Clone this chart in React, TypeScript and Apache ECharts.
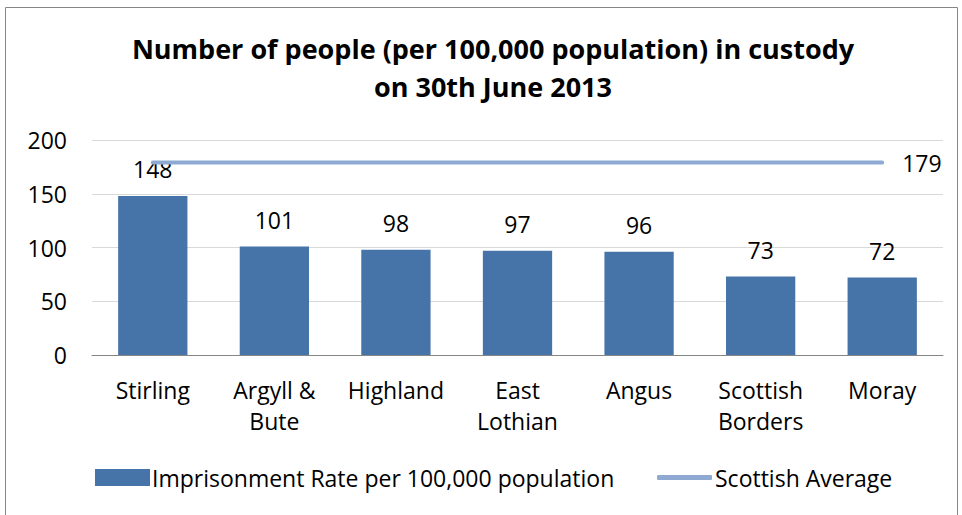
import React, { useEffect, useRef } from "react";
import * as echarts from "echarts";

const categories = ["Stirling", "Argyll &\nBute", "Highland", "East\nLothian", "Angus", "Scottish\nBorders", "Moray"];
const rateValues = [148, 101, 98, 97, 96, 73, 72];
const averageValues = [179, 179, 179, 179, 179, 179, 179];
const yTicks = { min: 0, max: 200, interval: 50 };

const FONT = "'Open Sans', Lato, sans-serif";
const BAR_NAME = "Imprisonment Rate per 100,000 population";
const LINE_NAME = "Scottish Average";
const FS = 23;

export default function App() {
  const ref = useRef<HTMLDivElement>(null);
  useEffect(() => {
    const chart = echarts.init(ref.current!, null, { renderer: "svg" });
    chart.setOption({
      animation: false,
      backgroundColor: "#ffffff",
      textStyle: { fontFamily: FONT },
      title: {
        text: "Number of people (per 100,000 population) in custody\non 30th June 2013",
        left: 488,
        textAlign: "center",
        top: 24,
        textStyle: { fontFamily: FONT, fontSize: 27, fontWeight: "bold", color: "#000", lineHeight: 38 },
      },
      graphic: [
        {
          type: "rect",
          shape: { x: 5.5, y: 7.5, width: 952, height: 520 },
          style: { fill: "none", stroke: "#868686", lineWidth: 1 },
          silent: true,
        },
      ],
      legend: [
        {
          left: 90,
          top: 461,
          itemWidth: 55,
          itemHeight: 17,
          textStyle: { fontFamily: FONT, fontSize: FS, color: "#000", padding: [0, 0, 0, -3] },
          data: [{ name: BAR_NAME, icon: "rect" }],
        },
        {
          left: 652,
          top: 461,
          itemWidth: 55,
          itemHeight: 5,
          textStyle: { fontFamily: FONT, fontSize: FS, color: "#000", padding: [0, 0, 0, -2] },
          data: [{ name: LINE_NAME, icon: "roundRect" }],
        },
      ],
      grid: { left: 92, right: 19, top: 140, bottom: 160, containLabel: false },
      xAxis: {
        type: "category",
        data: categories,
        axisLine: { lineStyle: { color: "#868686", width: 1 } },
        axisTick: { show: false },
        axisLabel: { fontFamily: FONT, fontSize: FS, color: "#000", margin: 19, lineHeight: 31, interval: 0 },
      },
      yAxis: {
        type: "value",
        min: yTicks.min,
        max: yTicks.max,
        interval: yTicks.interval,
        axisLine: { show: false },
        axisTick: { show: false },
        axisLabel: { fontFamily: FONT, fontSize: FS, color: "#000", margin: 25 },
        splitLine: { lineStyle: { color: "#d9d9d9", width: 1 } },
      },
      series: [
        {
          name: BAR_NAME,
          type: "bar",
          data: rateValues,
          barWidth: "57%",
          itemStyle: { color: "#4673a8" },
          label: { show: true, position: "top", distance: 15, fontFamily: FONT, fontSize: FS, color: "#000" },
        },
        {
          name: LINE_NAME,
          type: "line",
          data: averageValues,
          symbol: "none",
          showSymbol: false,
          lineStyle: { color: "#8eaad3", width: 4, cap: "round" },
          itemStyle: { color: "#8eaad3" },
          label: { show: false },
          endLabel: { show: true, distance: 20, fontFamily: FONT, fontSize: FS, color: "#000", formatter: "{c}" },
          z: 3,
        },
      ],
    });
    return () => chart.dispose();
  }, []);
  return <div ref={ref} style={{ position: "fixed", left: 0, top: 0, width: 962, height: 515 }} />;
}
